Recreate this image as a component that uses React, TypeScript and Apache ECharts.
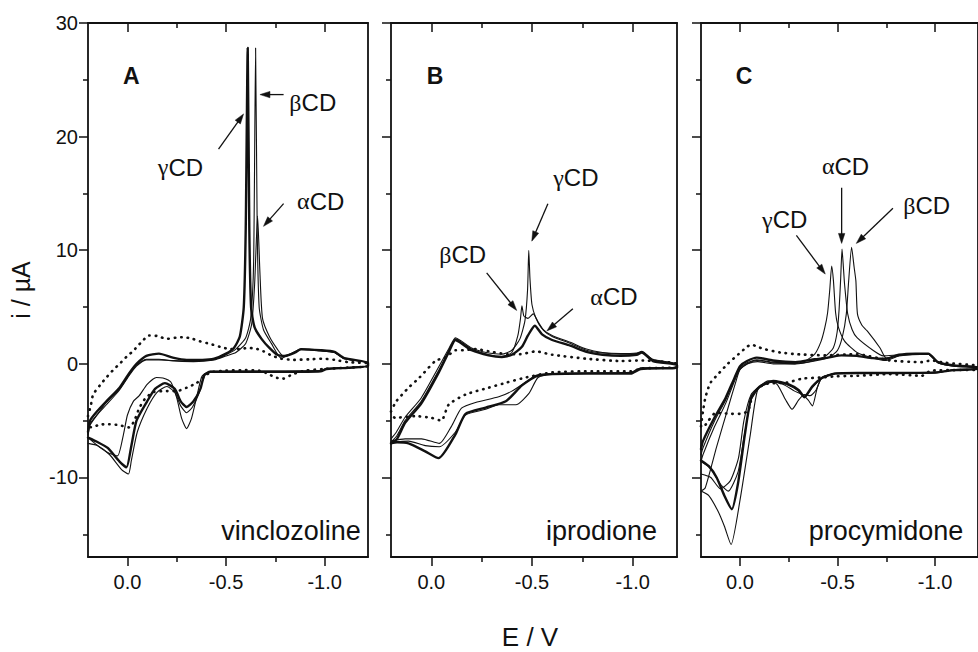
import React, { useEffect, useRef } from "react";
import * as echarts from "echarts";

type Pt = [number, number];

const INK = "#111111";
const FONT = "Liberation Sans";
const SERIF = "Liberation Serif";

// Axis ranges and ticks
const X_MIN = -1.22;
const X_MAX = 0.2;
const Y_MIN = -17;
const Y_MAX = 30;
const xMajorTicks = [0, -0.5, -1.0];
const xMinorTicks = [-0.25, -0.75];
const yMajorTicks = [30, 20, 10, 0, -10];
const yMinorTicks = [25, 15, 5, -5, -15];

const panelLetters = ["A", "B", "C"];
const compounds = ["vinclozoline", "iprodione", "procymidone"];

// ---------- Panel A (vinclozoline) : [E / V, i / µA] ----------
const A_blank: Pt[] = [
  [0.2, -4.6], [0.185, -3.6], [0.174, -2.7], [0.14, -1.9], [0.107, -1.2], [0.07, -0.5], [0.04, 0.0],
  [0.0, 0.7], [-0.03, 1.15], [-0.07, 1.9], [-0.11, 2.5], [-0.15, 2.45], [-0.2, 2.2], [-0.245, 2.3],
  [-0.285, 2.35], [-0.33, 2.2], [-0.365, 2.0], [-0.42, 1.75], [-0.47, 1.5], [-0.52, 1.3], [-0.57, 1.3],
  [-0.61, 1.4], [-0.65, 1.35], [-0.69, 1.1], [-0.73, 0.75], [-0.78, 0.45], [-0.845, 0.35], [-0.92, 0.4],
  [-0.995, 0.45], [-1.05, 0.35], [-1.12, 0.15], [-1.22, 0.05],
  [-1.22, -0.2], [-1.1, -0.35], [-1.0, -0.45], [-0.9, -0.6], [-0.84, -0.9], [-0.79, -1.3], [-0.75, -1.2],
  [-0.71, -0.85], [-0.67, -0.6], [-0.6, -0.55], [-0.5, -0.6], [-0.42, -0.75], [-0.385, -1.2], [-0.35, -1.7],
  [-0.3, -2.1], [-0.25, -2.4], [-0.2, -2.4], [-0.13, -2.5], [-0.088, -3.1], [-0.06, -3.9], [-0.035, -5.0],
  [-0.01, -5.6], [0.04, -5.4], [0.107, -5.3], [0.15, -5.4], [0.18, -5.6], [0.2, -5.5],
];
const A_alpha: Pt[] = [
  [0.2, -6.3], [0.19, -5.4], [0.15, -4.4], [0.107, -3.4], [0.04, -2.2], [-0.01, -0.9], [-0.046, -0.1],
  [-0.096, 0.4], [-0.16, 0.4], [-0.23, 0.25], [-0.335, 0.2], [-0.44, 0.35], [-0.5, 0.7], [-0.55, 1.0],
  [-0.6, 1.8], [-0.63, 3.5], [-0.645, 7], [-0.66, 13], [-0.672, 8], [-0.685, 4], [-0.72, 2.4], [-0.76, 1.3],
  [-0.79, 0.7], [-0.83, 0.9], [-0.88, 1.25], [-0.98, 1.15], [-1.05, 1.0], [-1.1, 0.45], [-1.22, 0.1],
  [-1.22, -0.2], [-1.12, -0.3], [-1.01, -0.4], [-0.98, -0.6], [-0.8, -0.65], [-0.6, -0.65], [-0.42, -0.7],
  [-0.39, -0.9], [-0.375, -1.2], [-0.35, -3.0], [-0.325, -4.8], [-0.3, -5.7], [-0.275, -4.8], [-0.25, -3.0],
  [-0.22, -1.6], [-0.18, -1.25], [-0.147, -1.2], [-0.1, -1.8], [-0.06, -2.8], [-0.03, -3.3], [0.0, -4.5],
  [0.02, -6.2], [0.05, -8.1], [0.09, -7.9], [0.137, -7.4], [0.2, -6.5],
];
const A_beta: Pt[] = [
  [0.2, -6.2], [0.19, -5.3], [0.15, -4.4], [0.107, -3.6], [0.04, -2.3], [-0.01, -1.0], [-0.046, -0.2],
  [-0.096, 0.35], [-0.16, 0.35], [-0.23, 0.3], [-0.335, 0.25], [-0.44, 0.4], [-0.5, 0.8], [-0.55, 1.3],
  [-0.6, 2.3], [-0.625, 4], [-0.64, 9], [-0.65, 27.8], [-0.658, 12], [-0.668, 5], [-0.69, 3.0], [-0.73, 1.8],
  [-0.78, 0.5], [-0.83, 0.9], [-0.88, 1.3], [-0.98, 1.15], [-1.05, 1.0], [-1.1, 0.45], [-1.22, 0.1],
  [-1.22, -0.2], [-1.12, -0.35], [-1.01, -0.45], [-0.98, -0.6], [-0.8, -0.65], [-0.6, -0.65], [-0.42, -0.65],
  [-0.39, -1.0], [-0.365, -2.5], [-0.33, -3.8], [-0.3, -4.3], [-0.27, -3.7], [-0.24, -2.5], [-0.2, -2.0],
  [-0.15, -2.5], [-0.1, -3.9], [-0.05, -6.0], [-0.02, -8.5], [-0.005, -9.7], [0.03, -9.3], [0.09, -8.0],
  [0.15, -7.2], [0.2, -7.0],
];
const A_gamma: Pt[] = [
  [0.2, -6.0], [0.19, -5.0], [0.15, -4.1], [0.107, -3.3], [0.04, -2.1], [-0.01, -0.8], [-0.046, 0.0],
  [-0.096, 0.7], [-0.16, 0.9], [-0.23, 0.55], [-0.3, 0.35], [-0.38, 0.35], [-0.44, 0.45], [-0.5, 0.9],
  [-0.54, 1.4], [-0.57, 2.4], [-0.59, 5], [-0.6, 12], [-0.61, 27.8], [-0.618, 12], [-0.627, 5], [-0.645, 3.2],
  [-0.68, 2.2], [-0.72, 1.4], [-0.76, 0.8], [-0.8, 0.7], [-0.85, 1.0], [-0.88, 1.3], [-0.98, 1.2],
  [-1.05, 1.05], [-1.1, 0.5], [-1.22, 0.1],
  [-1.22, -0.2], [-1.12, -0.35], [-1.01, -0.45], [-0.98, -0.65], [-0.8, -0.7], [-0.6, -0.7], [-0.42, -0.7],
  [-0.39, -1.0], [-0.37, -2.2], [-0.335, -3.3], [-0.3, -3.8], [-0.27, -3.3], [-0.24, -2.2], [-0.19, -1.7],
  [-0.14, -2.2], [-0.1, -3.3], [-0.046, -5.0], [-0.02, -7.2], [0.005, -9.1], [0.04, -8.6], [0.1, -7.4],
  [0.15, -6.9], [0.2, -6.5],
];

// ---------- Panel B (iprodione) ----------
const B_blank: Pt[] = [
  [0.2, -4.2], [0.174, -3.3], [0.113, -2.1], [0.058, -1.2], [-0.02, 0.25], [-0.075, 0.6], [-0.12, 1.2],
  [-0.16, 1.2], [-0.22, 1.3], [-0.3, 1.05], [-0.38, 0.85], [-0.44, 0.85], [-0.52, 1.1], [-0.6, 0.8],
  [-0.77, 0.45], [-0.94, 0.25], [-1.05, 0.3], [-1.22, 0.0],
  [-1.22, -0.3], [-1.05, -0.4], [-0.99, -0.65], [-0.8, -0.65], [-0.6, -0.75], [-0.47, -1.2], [-0.373, -1.65],
  [-0.285, -2.1], [-0.17, -2.7], [-0.086, -3.6], [-0.05, -5.0], [0.0, -4.75], [0.08, -4.6], [0.18, -4.75],
  [0.2, -4.5],
];
const B_alpha: Pt[] = [
  [0.2, -7.0], [0.17, -6.6], [0.13, -5.2], [0.05, -3.5], [-0.036, -0.8], [-0.086, 1.0], [-0.12, 2.1],
  [-0.15, 1.8], [-0.2, 1.2], [-0.285, 0.75], [-0.35, 0.6], [-0.4, 0.8], [-0.45, 1.5], [-0.48, 2.5],
  [-0.514, 3.35], [-0.55, 2.6], [-0.6, 2.1], [-0.69, 1.6], [-0.77, 1.05], [-0.85, 0.8], [-0.94, 0.7],
  [-1.02, 0.8], [-1.045, 1.0], [-1.1, 0.25], [-1.22, -0.1],
  [-1.22, -0.35], [-1.04, -0.45], [-0.99, -0.85], [-0.77, -0.85], [-0.6, -0.9], [-0.52, -1.1], [-0.45, -1.9],
  [-0.37, -3.3], [-0.27, -3.85], [-0.17, -4.4], [-0.12, -6.2], [-0.036, -8.3], [0.03, -7.7], [0.113, -7.0],
  [0.17, -6.9], [0.2, -7.0],
];
const B_beta: Pt[] = [
  [0.2, -6.9], [0.17, -6.3], [0.13, -5.0], [0.05, -3.3], [-0.036, -0.6], [-0.086, 1.15], [-0.12, 2.2],
  [-0.15, 1.9], [-0.2, 1.3], [-0.285, 0.8], [-0.35, 0.65], [-0.4, 1.0], [-0.43, 2.5], [-0.443, 4.0],
  [-0.45, 5.1], [-0.46, 4.2], [-0.48, 4.0], [-0.506, 4.4], [-0.53, 3.7], [-0.56, 2.9], [-0.6, 2.4],
  [-0.69, 1.8], [-0.77, 1.2], [-0.85, 0.95], [-0.94, 0.85], [-1.02, 0.9], [-1.045, 1.05], [-1.1, 0.35],
  [-1.22, -0.05],
  [-1.22, -0.3], [-1.04, -0.35], [-0.99, -0.75], [-0.77, -0.8], [-0.6, -0.85], [-0.53, -1.2], [-0.485, -2.6],
  [-0.42, -3.6], [-0.335, -3.6], [-0.27, -4.0], [-0.17, -4.5], [-0.12, -6.0], [-0.04, -7.3], [0.03, -7.2],
  [0.113, -6.8], [0.2, -6.9],
];
const B_gamma: Pt[] = [
  [0.2, -6.6], [0.173, -6.0], [0.13, -4.7], [0.05, -3.0], [-0.036, -0.3], [-0.086, 1.3], [-0.12, 2.3],
  [-0.15, 2.0], [-0.2, 1.4], [-0.285, 0.95], [-0.35, 0.85], [-0.4, 1.2], [-0.44, 2.2], [-0.465, 3.8],
  [-0.478, 6.5], [-0.484, 10.0], [-0.49, 7.5], [-0.5, 5.2], [-0.52, 4.0], [-0.55, 3.1], [-0.6, 2.5],
  [-0.69, 1.9], [-0.77, 1.3], [-0.85, 1.0], [-0.94, 0.9], [-1.02, 0.95], [-1.045, 1.1], [-1.1, 0.4],
  [-1.22, 0.0],
  [-1.22, -0.3], [-1.04, -0.4], [-0.99, -0.8], [-0.77, -0.85], [-0.6, -0.85], [-0.52, -1.0], [-0.47, -1.6],
  [-0.4, -2.4], [-0.335, -2.9], [-0.22, -3.4], [-0.15, -3.9], [-0.1, -5.5], [-0.04, -7.0], [0.048, -6.6],
  [0.13, -6.6], [0.2, -6.8],
];

// ---------- Panel C (procymidone) ----------
const C_blank: Pt[] = [
  [0.2, -5.5], [0.19, -4.2], [0.178, -3.0], [0.162, -2.1], [0.149, -1.6], [0.112, -0.9], [0.063, 0.0],
  [0.008, 0.85], [-0.036, 1.5], [-0.057, 1.7], [-0.09, 1.5], [-0.124, 1.3], [-0.206, 1.0], [-0.289, 0.85],
  [-0.437, 0.75], [-0.6, 0.85], [-0.767, 0.3], [-0.932, 0.15], [-0.98, 0.3], [-1.05, 0.1], [-1.22, -0.2],
  [-1.22, -0.5], [-1.1, -0.55], [-0.98, -0.6], [-0.932, -1.05], [-0.767, -0.9], [-0.6, -1.05],
  [-0.487, -1.1], [-0.42, -1.2], [-0.32, -1.3], [-0.24, -1.65], [-0.124, -1.8], [-0.066, -2.7],
  [-0.041, -4.15], [0.0, -4.4], [0.042, -4.4], [0.124, -4.3], [0.162, -5.0], [0.19, -5.6], [0.2, -5.5],
];
const C_none: Pt[] = [
  [0.2, -7.5], [0.19, -6.8], [0.13, -4.7], [0.074, -3.0], [0.03, -1.3], [0.0, -0.2], [-0.036, 0.25],
  [-0.086, 0.55], [-0.168, 0.3], [-0.284, 0.15], [-0.383, 0.4], [-0.45, 0.55], [-0.52, 0.75], [-0.6, 0.7],
  [-0.68, 0.5], [-0.75, 0.45], [-0.815, 0.8], [-0.9, 0.9], [-0.965, 0.9], [-1.015, 0.15], [-1.1, -0.15],
  [-1.22, -0.3],
  [-1.22, -0.45], [-1.1, -0.55], [-1.0, -0.75], [-0.8, -0.8], [-0.6, -0.8], [-0.487, -0.85], [-0.42, -1.25],
  [-0.37, -2.0], [-0.33, -2.9], [-0.3, -2.3], [-0.25, -1.8], [-0.17, -1.5], [-0.1, -2.0], [-0.057, -3.0],
  [-0.025, -6.2], [0.01, -10.5], [0.042, -12.8], [0.08, -11.6], [0.12, -10.0], [0.16, -9.0], [0.2, -8.5],
];
const C_alpha: Pt[] = [
  [0.2, -8.0], [0.19, -7.4], [0.13, -5.0], [0.074, -3.2], [0.03, -1.4], [0.0, -0.4], [-0.036, 0.1],
  [-0.086, 0.35], [-0.168, 0.15], [-0.284, 0.05], [-0.383, 0.3], [-0.44, 0.7], [-0.478, 1.4], [-0.498, 2.8],
  [-0.508, 4.8], [-0.516, 7.5], [-0.523, 10.1], [-0.53, 8.5], [-0.536, 7.0], [-0.552, 4.4], [-0.575, 3.0],
  [-0.6, 2.3], [-0.685, 1.15], [-0.735, 0.7], [-0.815, 0.8], [-0.9, 0.85], [-0.965, 0.85], [-1.015, 0.15],
  [-1.1, -0.15], [-1.22, -0.3],
  [-1.22, -0.45], [-1.1, -0.55], [-1.0, -0.75], [-0.8, -0.8], [-0.6, -0.8], [-0.487, -0.85], [-0.42, -1.25],
  [-0.37, -2.1], [-0.33, -3.0], [-0.3, -2.4], [-0.25, -1.9], [-0.17, -1.6], [-0.1, -2.1], [-0.057, -3.2],
  [-0.02, -6.5], [0.01, -9.5], [0.06, -11.2], [0.1, -10.6], [0.15, -9.2], [0.2, -8.6],
];
const C_beta: Pt[] = [
  [0.2, -8.6], [0.19, -8.0], [0.13, -5.5], [0.074, -3.5], [0.03, -1.6], [0.0, -0.5], [-0.036, 0.0],
  [-0.086, 0.3], [-0.168, 0.1], [-0.284, 0.0], [-0.383, 0.25], [-0.46, 0.6], [-0.5, 1.2], [-0.525, 2.4],
  [-0.545, 4.4], [-0.557, 7.3], [-0.572, 10.25], [-0.585, 8.5], [-0.594, 7.3], [-0.602, 4.4], [-0.625, 3.4],
  [-0.652, 2.9], [-0.718, 1.4], [-0.75, 0.5], [-0.815, 0.75], [-0.965, 0.85], [-1.015, 0.1], [-1.1, -0.2],
  [-1.22, -0.3],
  [-1.22, -0.45], [-1.1, -0.5], [-1.0, -0.8], [-0.8, -0.8], [-0.6, -0.8], [-0.487, -0.85], [-0.42, -1.2],
  [-0.396, -2.1], [-0.371, -3.7], [-0.35, -3.2], [-0.32, -2.7], [-0.28, -2.4], [-0.22, -1.8], [-0.157, -1.6],
  [-0.107, -1.9], [-0.057, -2.7], [-0.02, -5.0], [0.008, -8.3], [0.05, -10.3], [0.1, -11.0], [0.15, -10.0],
  [0.2, -9.7],
];
const C_gamma: Pt[] = [
  [0.2, -11.2], [0.178, -10.9], [0.12, -7.3], [0.06, -3.8], [0.02, -1.5], [0.0, -0.5], [-0.04, 0.0],
  [-0.09, 0.2], [-0.17, 0.0], [-0.28, 0.0], [-0.333, 0.25], [-0.383, 0.85], [-0.416, 2.0], [-0.435, 3.2],
  [-0.449, 4.5], [-0.46, 6.5], [-0.47, 8.6], [-0.479, 7.3], [-0.49, 4.5], [-0.503, 3.3], [-0.536, 2.0],
  [-0.6, 1.0], [-0.685, 0.5], [-0.75, 0.3], [-0.815, 0.7], [-0.965, 0.85], [-1.015, 0.1], [-1.1, -0.2],
  [-1.22, -0.3],
  [-1.22, -0.45], [-1.1, -0.5], [-1.0, -0.8], [-0.8, -0.8], [-0.6, -0.8], [-0.487, -0.85], [-0.42, -1.2],
  [-0.39, -2.3], [-0.36, -2.8], [-0.33, -2.7], [-0.3, -3.2], [-0.267, -4.0], [-0.235, -3.2], [-0.19, -1.8],
  [-0.144, -1.5], [-0.09, -2.3], [-0.053, -6.2], [0.0, -12.0], [0.046, -15.9], [0.08, -14.3],
  [0.112, -13.0], [0.16, -11.6], [0.2, -11.2],
];

// Annotations (label centre and arrow tail -> head, in data coordinates)
type Ann = { greek: string; at: Pt; from: Pt; to: Pt };
const annA: Ann[] = [
  { greek: "γ", at: [-0.269, 17.3], from: [-0.462, 18.9], to: [-0.589, 22.0] },
  { greek: "β", at: [-0.94, 23.0], from: [-0.792, 23.7], to: [-0.672, 23.7] },
  { greek: "α", at: [-0.98, 14.3], from: [-0.792, 14.1], to: [-0.69, 12.1] },
];
const annB: Ann[] = [
  { greek: "γ", at: [-0.718, 16.4], from: [-0.579, 14.1], to: [-0.499, 10.8] },
  { greek: "β", at: [-0.156, 9.6], from: [-0.275, 8.0], to: [-0.424, 4.7] },
  { greek: "α", at: [-0.907, 5.9], from: [-0.703, 4.85], to: [-0.574, 2.9] },
];
const annC: Ann[] = [
  { greek: "γ", at: [-0.229, 12.7], from: [-0.289, 11.3], to: [-0.437, 7.9] },
  { greek: "α", at: [-0.541, 17.4], from: [-0.521, 15.5], to: [-0.521, 10.6] },
  { greek: "β", at: [-0.957, 13.9], from: [-0.784, 13.7], to: [-0.596, 10.6] },
];

const letterPos: Pt = [0.022, 25.3];
const compoundPos: Pt[] = [[-1.183, -14.7], [-1.121, -14.7], [-1.145, -14.7]];

const panels = [
  { blank: A_blank, thin: [A_alpha, A_beta], thick: [A_gamma], ann: annA },
  { blank: B_blank, thin: [B_beta, B_gamma], thick: [B_alpha], ann: annB },
  { blank: C_blank, thin: [C_alpha, C_beta, C_gamma], thick: [C_none], ann: annC },
];

// Layout (pixels)
const GRID_TOP = 23;
const GRID_HEIGHT = 534;
const gridBoxes = [
  { left: 88, width: 280 },
  { left: 391, width: 286 },
  { left: 701, width: 287 },
];

function buildOption(): any {
  const axisLine = { show: true, onZero: false, lineStyle: { color: INK, width: 1.8 } };
  const tickStyle = { color: INK, width: 1.5 };
  const grid = gridBoxes.map((b) => ({ left: b.left, top: GRID_TOP, width: b.width, height: GRID_HEIGHT }));
  const xAxis: any[] = [];
  const yAxis: any[] = [];
  const series: any[] = [];
  gridBoxes.forEach((_, g) => {
    const xBase = { gridIndex: g, type: "value", min: X_MIN, max: X_MAX, inverse: true, splitLine: { show: false } };
    xAxis.push(
      {
        ...xBase, position: "bottom", axisLine,
        axisTick: { show: true, inside: false, length: 9, lineStyle: tickStyle, customValues: xMajorTicks },
        axisLabel: {
          show: true, customValues: xMajorTicks, formatter: (v: number) => v.toFixed(1),
          fontSize: 20, color: INK, fontFamily: FONT, margin: 15,
        },
      },
      {
        ...xBase, position: "bottom", axisLine: { show: false, onZero: false },
        axisTick: { show: true, inside: false, length: 5, lineStyle: tickStyle, customValues: xMinorTicks },
        axisLabel: { show: false },
      },
      {
        ...xBase, position: "top", axisLine,
        axisTick: { show: true, inside: true, length: 9, lineStyle: tickStyle, customValues: xMajorTicks },
        axisLabel: { show: false },
      },
      {
        ...xBase, position: "top", axisLine: { show: false, onZero: false },
        axisTick: { show: true, inside: true, length: 5, lineStyle: tickStyle, customValues: xMinorTicks },
        axisLabel: { show: false },
      }
    );
    const yBase = { gridIndex: g, type: "value", min: Y_MIN, max: Y_MAX, splitLine: { show: false } };
    yAxis.push(
      {
        ...yBase, position: "left", axisLine,
        axisTick: { show: true, inside: false, length: 9, lineStyle: tickStyle, customValues: yMajorTicks },
        axisLabel: {
          show: g === 0, customValues: yMajorTicks, fontSize: 20, color: INK, fontFamily: FONT, margin: 10,
        },
      },
      {
        ...yBase, position: "left", axisLine: { show: false, onZero: false },
        axisTick: { show: true, inside: false, length: 5, lineStyle: tickStyle, customValues: yMinorTicks },
        axisLabel: { show: false },
      },
      {
        ...yBase, position: "right", axisLine,
        axisTick: { show: false }, axisLabel: { show: false },
      }
    );
    const p = panels[g];
    const base = {
      type: "line", xAxisIndex: 4 * g, yAxisIndex: 3 * g, showSymbol: false, symbol: "none",
      smooth: 0.2, silent: true, clip: true,
    };
    series.push({ ...base, data: p.blank, lineStyle: { color: INK, width: 2.6, type: [0.5, 6], cap: "round" } });
    p.thick.forEach((c) => {
      series.push({ ...base, data: c, lineStyle: { color: INK, width: 2.4, cap: "round", join: "round" } });
    });
    p.thin.forEach((c) => {
      series.push({ ...base, data: c, lineStyle: { color: INK, width: 1.1, cap: "round", join: "round" } });
    });
  });
  return {
    animation: false,
    backgroundColor: "#ffffff",
    grid, xAxis, yAxis, series,
  };
}

function buildGraphic(chart: any): any[] {
  const out: any[] = [];
  const richStyle = {
    g: { fontFamily: SERIF, fontSize: 24, fill: INK, color: INK },
    s: { fontFamily: FONT, fontSize: 24, fill: INK, color: INK },
  };
  panels.forEach((p, g) => {
    const toPx = (pt: Pt) => chart.convertToPixel({ xAxisIndex: 4 * g, yAxisIndex: 3 * g }, pt) as number[];
    const lp = toPx(letterPos);
    out.push({
      type: "text", x: lp[0], y: lp[1], silent: true,
      style: {
        text: panelLetters[g], fontFamily: FONT, fontSize: 23, fontWeight: "bold", fill: INK,
        align: "left", verticalAlign: "middle",
      },
    });
    const cp = toPx(compoundPos[g]);
    out.push({
      type: "text", x: cp[0], y: cp[1], silent: true,
      style: {
        text: compounds[g], fontFamily: FONT, fontSize: 27, fill: INK, align: "right", verticalAlign: "middle",
      },
    });
    p.ann.forEach((a) => {
      const c = toPx(a.at);
      out.push({
        type: "text", x: c[0], y: c[1], silent: true,
        style: {
          text: "{g|" + a.greek + "}{s|CD}", rich: richStyle, fill: INK,
          align: "center", verticalAlign: "middle", fontSize: 24, fontFamily: FONT,
        },
      });
      const f = toPx(a.from);
      const t = toPx(a.to);
      const dx = t[0] - f[0];
      const dy = t[1] - f[1];
      const len = Math.sqrt(dx * dx + dy * dy) || 1;
      const ux = dx / len;
      const uy = dy / len;
      const L = 10;
      const W = 3.2;
      const bx = t[0] - ux * L;
      const by = t[1] - uy * L;
      out.push({
        type: "line", silent: true,
        shape: { x1: f[0], y1: f[1], x2: t[0] - ux * L * 0.6, y2: t[1] - uy * L * 0.6 },
        style: { stroke: INK, lineWidth: 1.3 },
      });
      out.push({
        type: "polygon", silent: true,
        shape: { points: [[t[0], t[1]], [bx - uy * W, by + ux * W], [bx + uy * W, by - ux * W]] },
        style: { fill: INK, stroke: INK, lineWidth: 0.5 },
      });
    });
  });
  out.push({
    type: "text", x: 21, y: 290, rotation: Math.PI / 2, silent: true,
    style: { text: "i / µA", fontFamily: FONT, fontSize: 25, fill: INK, align: "center", verticalAlign: "middle" },
  });
  out.push({
    type: "text", x: 530, y: 637, silent: true,
    style: { text: "E / V", fontFamily: FONT, fontSize: 26, fill: INK, align: "center", verticalAlign: "middle" },
  });
  return out;
}

export default function App() {
  const ref = useRef<HTMLDivElement>(null);
  useEffect(() => {
    if (!ref.current) return;
    const chart = echarts.init(ref.current, null, { renderer: "svg" });
    chart.setOption(buildOption());
    chart.setOption({ graphic: buildGraphic(chart) });
    return () => chart.dispose();
  }, []);
  return (
    <div
      ref={ref}
      style={{ position: "absolute", left: 0, top: 0, width: 978, height: 652, background: "#ffffff" }}
    />
  );
}
